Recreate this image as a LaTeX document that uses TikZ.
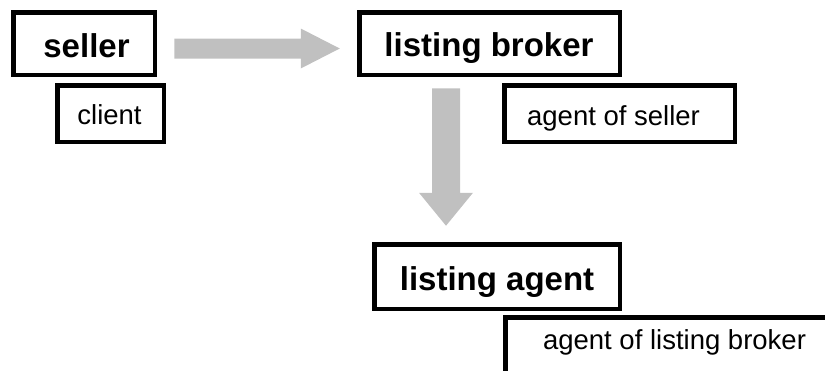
\documentclass[tikz,border=0pt]{standalone}
\usepackage{fontspec}
\setmainfont{Liberation Sans}
\usetikzlibrary{calc}
\definecolor{arrgray}{RGB}{192,192,192}
\tikzset{
  box/.style={draw=black, line width=4.5pt, inner sep=0pt, fill=white},
  bigtxt/.style={font=\fontsize{33}{36}\selectfont\bfseries, inner sep=0pt, anchor=base},
  smalltxt/.style={font=\fontsize{27.5}{30}\selectfont, inner sep=0pt, anchor=base},
  flow/.style={fill=arrgray}
}
\begin{document}
\begin{tikzpicture}[x=1pt,y=-1pt]
\useasboundingbox (0,0) rectangle (825,370);
% boxes
\node[box, minimum width=141.5pt, minimum height=62.5pt] (seller) at (84,43.5) {};
\node[box, minimum width=106.5pt, minimum height=56.5pt] (client) at (110.5,113.5) {};
\node[box, minimum width=260.5pt, minimum height=62.5pt] (broker) at (489.5,43.5) {};
\node[box, minimum width=230.5pt, minimum height=56.5pt] (aseller) at (619.5,113.5) {};
\node[box, minimum width=245.5pt, minimum height=64.5pt] (lagent) at (497,276.5) {};
\node[box, minimum width=322.5pt, minimum height=55.5pt] (abroker) at (666.5,345) {};
% texts
\node[bigtxt] (tseller) at (86.5,57) {seller};
\node[smalltxt] (tclient) at (109.5,124) {client};
\node[bigtxt] (tbroker) at (489,56) {listing broker};
\node[smalltxt] (taseller) at (613.5,125) {agent of seller};
\node[bigtxt] (tlagent) at (497,290) {listing agent};
\node[smalltxt] (tabroker) at (674.5,349) {agent of listing broker};
% arrows
\coordinate (r0) at ($(seller.east)+(17.25,5)$);
\coordinate (r1) at ($(broker.west)+(-17.25,5)$);
\fill[flow] ($(r0)+(0,-10)$) -- ($(r1)+(-39,-10)$) -- ($(r1)+(-39,-20)$) -- (r1)
  -- ($(r1)+(-39,20)$) -- ($(r1)+(-39,10)$) -- ($(r0)+(0,10)$) -- cycle;
\coordinate (d0) at ($(broker.south)+(-43.5,11.25)$);
\coordinate (d1) at ($(lagent.north)+(-51,-16.25)$);
\fill[flow] ($(d0)+(-14,0)$) -- ($(d1)+(-14,-33)$) -- ($(d1)+(-27,-33)$) -- (d1)
  -- ($(d1)+(27,-33)$) -- ($(d1)+(14,-33)$) -- ($(d0)+(14,0)$) -- cycle;
\end{tikzpicture}
\end{document}
